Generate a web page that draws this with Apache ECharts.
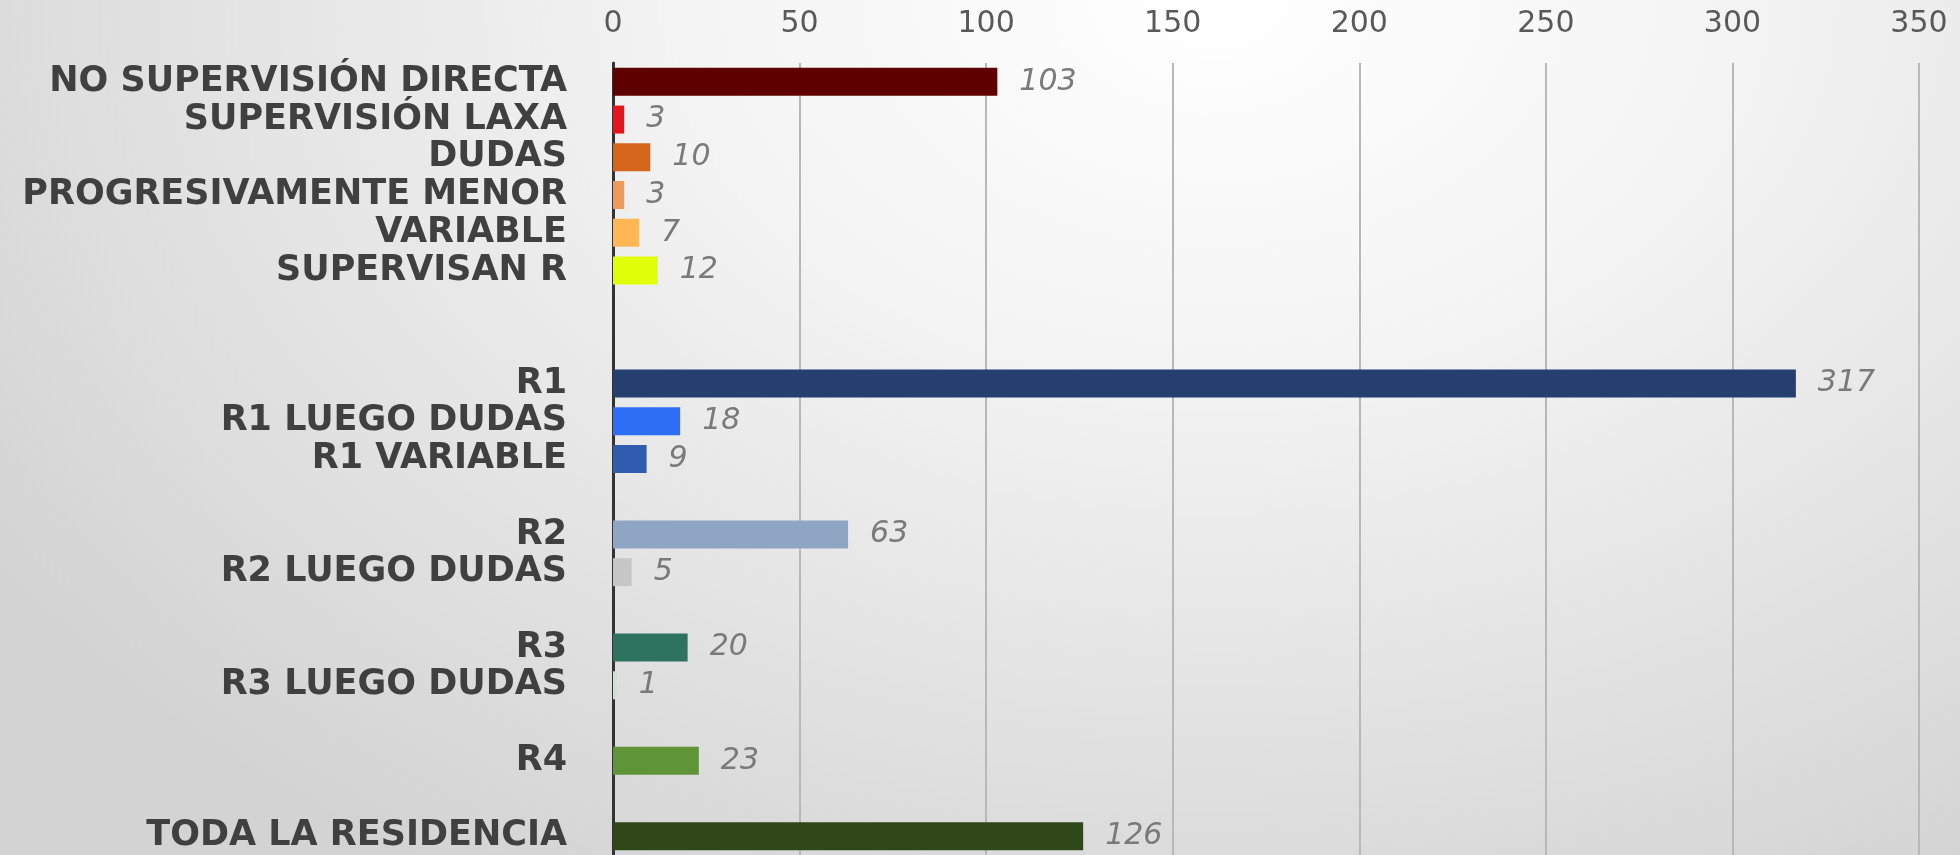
<!DOCTYPE html>
<html>
<head>
<meta charset="utf-8">
<script src="https://cdn.jsdelivr.net/npm/echarts@6/dist/echarts.min.js"></script>
<style>
html,body{margin:0;padding:0;width:1960px;height:855px;overflow:hidden;}
#c{width:1960px;height:855px;background:radial-gradient(ellipse 75% 120% at 62% 0%, #ffffff 0%, #f4f4f4 35%, #d3d3d3 100%);}
</style>
</head>
<body>
<div id="c"></div>
<script>
const categories = [
  'NO SUPERVISIÓN DIRECTA','SUPERVISIÓN LAXA','DUDAS','PROGRESIVAMENTE MENOR','VARIABLE','SUPERVISAN R',
  ' ','  ',
  'R1','R1 LUEGO DUDAS','R1 VARIABLE',
  '   ',
  'R2','R2 LUEGO DUDAS',
  '    ',
  'R3','R3 LUEGO DUDAS',
  '     ',
  'R4',
  '      ',
  'TODA LA RESIDENCIA'
];
const values = [103,3,10,3,7,12,null,null,317,18,9,null,63,5,null,20,1,null,23,null,126];
const barColors = [
  '#5e0000','#e8141c','#d4651a','#f09a5a','#ffb755','#e2ff0a',
  null,null,
  '#243f70','#2e6ef5','#2f5cae',
  null,
  '#8fa5c4','#c6c6c6',
  null,
  '#2e7360','#cfe0d6',
  null,
  '#5f9537',
  null,
  '#2f4719'
];
const xTicks = {min:0, max:350, interval:50};

const chart = echarts.init(document.getElementById('c'), null, {renderer:'canvas'});
const seriesData = values.map((v,i)=>({value:v, itemStyle:{color:barColors[i] || '#000'}}));
chart.setOption({
  backgroundColor:'transparent',
  animation:false,
  grid:{left:613, right:41, top:63, height:794, containLabel:false},
  xAxis:{
    type:'value', position:'top', min:xTicks.min, max:xTicks.max, interval:xTicks.interval,
    axisLine:{show:false}, axisTick:{show:false},
    axisLabel:{color:'#595959', fontSize:30, fontFamily:'DejaVu Sans', margin:24},
    splitLine:{show:true, lineStyle:{color:'#b8b8b8', width:2}}
  },
  yAxis:{
    type:'category', inverse:true, data:categories,
    axisLine:{show:true, lineStyle:{color:'#333333', width:3}},
    axisTick:{show:false},
    axisLabel:{interval:0, color:'#404040', fontSize:35, fontWeight:'bold', fontFamily:'DejaVu Sans', margin:46}
  },
  series:[{
    type:'bar', data:seriesData, barWidth:28,
    label:{show:true, position:'right', distance:22, color:'#7a7a7a', fontSize:30, fontStyle:'italic', fontFamily:'DejaVu Sans',
      formatter:p=> (p.value==null ? '' : String(p.value))}
  }]
});
</script>
</body>
</html>
